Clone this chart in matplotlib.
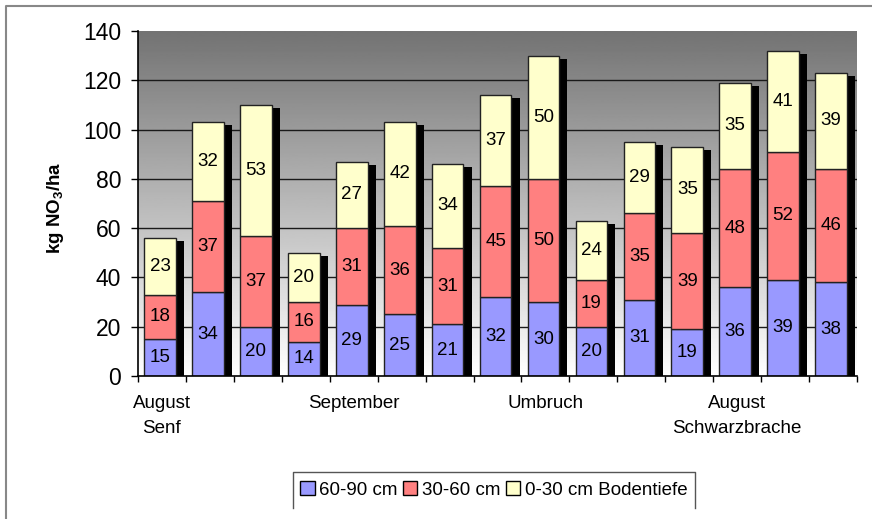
import numpy as np
import matplotlib
matplotlib.use("Agg")
import matplotlib.pyplot as plt
from matplotlib.patches import Patch
from matplotlib.lines import Line2D

plt.rcParams['font.family'] = ['Liberation Sans', 'DejaVu Sans']
plt.rcParams['mathtext.default'] = 'regular'

# Data (kg NO3/ha per soil layer)
group_labels = ["August\nSenf", "September", "Umbruch", "August\nSchwarzbrache"]
layer_names = ["60-90 cm", "30-60 cm", "0-30 cm Bodentiefe"]
deep = [15, 34, 20, 14, 29, 25, 21, 32, 30, 20, 31, 19, 36, 39, 38]
middle = [18, 37, 37, 16, 31, 36, 31, 45, 50, 19, 35, 39, 48, 52, 46]
top = [23, 32, 53, 20, 27, 42, 34, 37, 50, 24, 29, 35, 35, 41, 39]

colors = ["#9999FF", "#FF8080", "#FFFFCC"]

deep = np.array(deep)
middle = np.array(middle)
top = np.array(top)
totals = deep + middle + top
n = len(deep)
x = np.arange(n) + 0.46
w = 0.66

fig = plt.figure(figsize=(8.72, 5.19), dpi=100)
ax = fig.add_axes([138 / 872, 1 - 376 / 519, 719 / 872, 345 / 519])
ax.set_xlim(0, n)
ax.set_ylim(0, 140)

# gradient background of the plot area (dark grey at top -> white at bottom)
ax.imshow(np.linspace(0.45, 1.0, 256).reshape(-1, 1), extent=[0, n, 0, 140],
          aspect='auto', cmap='gray', vmin=0, vmax=1, origin='upper', zorder=0)

for yv in range(20, 140, 20):
    ax.axhline(yv, color='#1a1a1a', lw=1.0, zorder=1)

# shadows
ax.bar(x + 0.17, totals - 1.3, w, bottom=0, color='black', zorder=2)

ax.bar(x, deep, w, color=colors[0], edgecolor='#222222', lw=1, zorder=3, label=layer_names[0])
ax.bar(x, middle, w, bottom=deep, color=colors[1], edgecolor='#222222', lw=1, zorder=3, label=layer_names[1])
ax.bar(x, top, w, bottom=deep + middle, color=colors[2], edgecolor='#222222', lw=1, zorder=3, label=layer_names[2])

for i in range(n):
    ax.text(x[i], deep[i] / 2, str(deep[i]), ha='center', va='center', fontsize=13.5, zorder=4)
    ax.text(x[i], deep[i] + middle[i] / 2, str(middle[i]), ha='center', va='center', fontsize=13.5, zorder=4)
    ax.text(x[i], deep[i] + middle[i] + top[i] / 2, str(top[i]), ha='center', va='center', fontsize=13.5, zorder=4)

for s in ['top', 'right']:
    ax.spines[s].set_visible(False)
ax.spines['left'].set_linewidth(1.2)
ax.spines['bottom'].set_linewidth(1.2)
ax.spines['left'].set_zorder(5)
ax.spines['bottom'].set_zorder(5)

ax.set_yticks(range(0, 141, 20))
ax.tick_params(axis='y', length=5, width=1, pad=7, labelsize=16.5)
ax.set_xticks(range(0, n + 1))
ax.set_xticklabels([])
ax.tick_params(axis='x', which='major', length=4, width=1)
ax.set_xticks([0.5, 4.5, 8.5, 12.5], minor=True)
ax.set_xticklabels(group_labels, minor=True, fontsize=13.5, linespacing=1.55)
ax.tick_params(axis='x', which='minor', length=0, pad=14)

fig.text(56 / 872, 1 - 208 / 519, "kg NO$_3$/ha", rotation=90, fontsize=13.5,
         fontweight='bold', ha='center', va='center')

handles = [Patch(facecolor=c, edgecolor='black', lw=1) for c in colors]
leg = fig.legend(handles, layer_names, loc='center', bbox_to_anchor=(494 / 872, 1 - 490 / 519),
                 ncol=3, frameon=False, fontsize=13.5, handlelength=0.75, handleheight=0.75,
                 handletextpad=0.25, columnspacing=0.3, borderpad=0.2)

# legend box (bottom edge is cut off in the original) and outer frame
lx0, lx1, ly0, ly1 = 293 / 872, 695 / 872, 1 - 508 / 519, 1 - 472 / 519
fig.add_artist(Line2D([lx0, lx0, lx1, lx1], [ly0, ly1, ly1, ly0], color='#555555', lw=1))
fig.add_artist(Line2D([6 / 872, 6 / 872, 1], [0, 1 - 6 / 519, 1 - 6 / 519], color='#888888', lw=1.5))

fig.savefig("out.png", dpi=100)
